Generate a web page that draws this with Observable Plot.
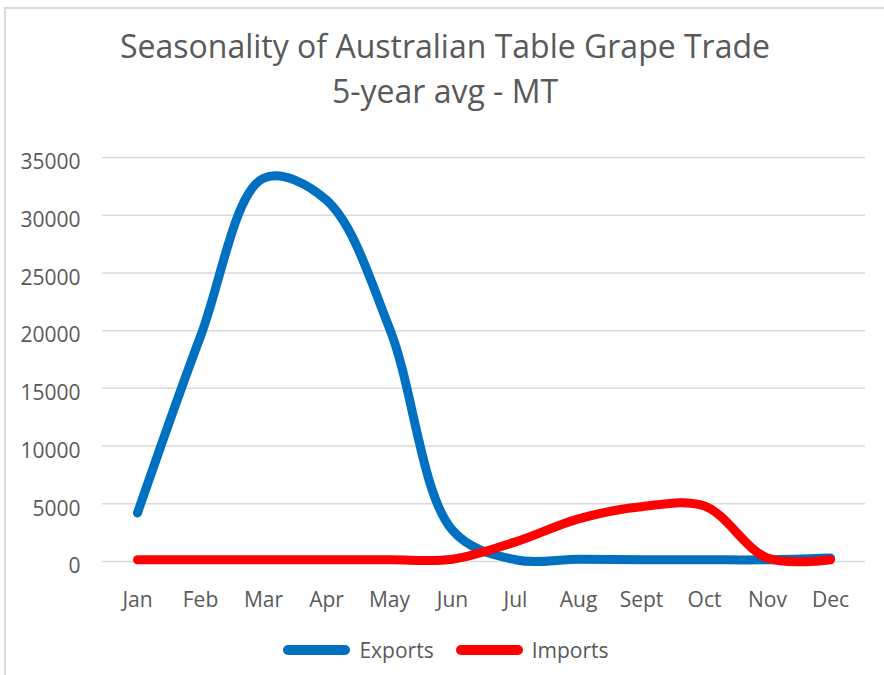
<!DOCTYPE html>
<html>
<head>
<meta charset="utf-8">
<script src="https://cdn.jsdelivr.net/npm/d3@7"></script>
<script src="https://cdn.jsdelivr.net/npm/@observablehq/plot@0.6"></script>
<style>
  body { margin: 0; background: #fff; font-family: "Open Sans", sans-serif; }
  #frame { position: relative; width: 884px; height: 675px; overflow: hidden; background: #fff; }
  #border { position: absolute; left: 4px; top: 7px; width: 920px; height: 720px;
            border-left: 2px solid #d9d9d9; border-top: 2px solid #d9d9d9; }
  #title { position: absolute; top: 23px; left: 0; width: 890px; text-align: center;
           color: #595959; font-size: 32px; line-height: 45px; }
  #chart { position: absolute; left: 0; top: 130px; }
  #legend { position: absolute; top: 636px; left: 0; width: 884px; height: 28px;
            display: flex; justify-content: center; align-items: center;
            color: #595959; font-size: 21px; padding-left: 8px; box-sizing: border-box; }
  .item { display: flex; align-items: center; margin: 0 11px; }
  .sw { width: 67px; height: 10px; border-radius: 5px; margin-right: 9px; }
</style>
</head>
<body>
<div id="frame">
  <div id="border"></div>
  <div id="title">Seasonality of Australian Table Grape Trade<br>5-year avg - MT</div>
  <div id="chart"></div>
  <div id="legend"></div>
</div>
<script>
const months = ["Jan","Feb","Mar","Apr","May","Jun","Jul","Aug","Sept","Oct","Nov","Dec"];
const seriesNames = ["Exports","Imports"];
const seriesColors = ["#0070c0","#ff0000"];
const exportsMT = [4200, 19500, 33200, 31300, 20200, 2700, 150, 200, 150, 150, 150, 300];
const importsMT = [150, 150, 150, 150, 150, 200, 1700, 3700, 4750, 4800, 300, 150];
const yTicks = [0, 5000, 10000, 15000, 20000, 25000, 30000, 35000];

const data = [];
months.forEach((m, i) => data.push({month: m, value: exportsMT[i], series: "Exports"}));
months.forEach((m, i) => data.push({month: m, value: importsMT[i], series: "Imports"}));

const chart = Plot.plot({
  width: 884,
  height: 495,
  marginLeft: 102,
  marginRight: 19,
  marginTop: 27,
  marginBottom: 64,
  style: { fontFamily: "Open Sans, sans-serif", fontSize: "21px", color: "#595959", background: "transparent" },
  x: { type: "point", domain: months, padding: 0.5, label: null },
  y: { domain: [0, 35000], label: null },
  color: { domain: seriesNames, range: seriesColors },
  marks: [
    Plot.gridY(yTicks, { stroke: "#d9d9d9", strokeOpacity: 1, strokeWidth: 1.5 }),
    Plot.axisY(yTicks, { tickSize: 0, tickPadding: 22, dy: 5, tickFormat: d => String(d), label: null, fill: "#595959" }),
    Plot.axisX(months, { tickSize: 0, tickPadding: 31, label: null, fill: "#595959" }),
    Plot.line(data, { x: "month", y: "value", z: "series", stroke: "series", strokeWidth: 9,
                      curve: "catmull-rom", strokeLinecap: "round", strokeLinejoin: "round" })
  ]
});
document.getElementById("chart").appendChild(chart);

const legend = document.getElementById("legend");
seriesNames.forEach((name, i) => {
  const item = document.createElement("div");
  item.className = "item";
  const sw = document.createElement("div");
  sw.className = "sw";
  sw.style.background = seriesColors[i];
  const t = document.createElement("span");
  t.textContent = name;
  item.appendChild(sw);
  item.appendChild(t);
  legend.appendChild(item);
});
</script>
</body>
</html>
